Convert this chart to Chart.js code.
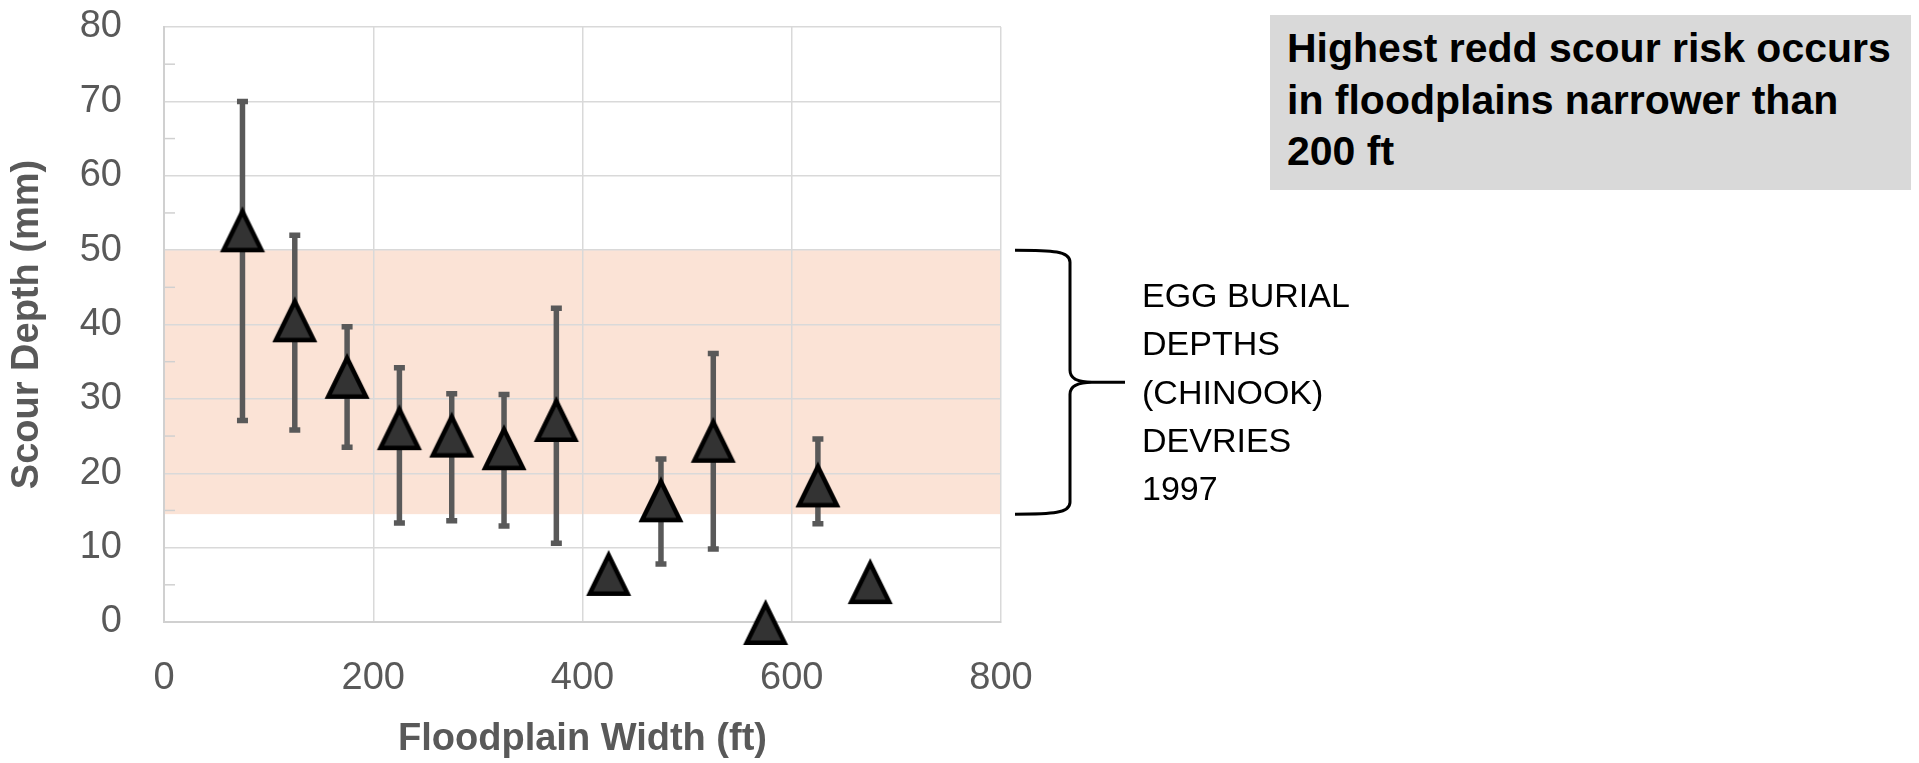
<!DOCTYPE html>
<html><head><meta charset="utf-8">
<script src="https://cdn.jsdelivr.net/npm/chart.js@4"></script>
<style>
html,body{margin:0;padding:0;background:#fff;}
#wrap{position:relative;width:1919px;height:763px;overflow:hidden;font-family:"Liberation Sans",Arial,sans-serif;}
#c{position:absolute;left:0;top:0;width:1919px;height:763px;}
#note{position:absolute;left:1270px;top:15px;width:641px;height:175px;background:#d9d9d9;box-sizing:border-box;padding:8px 0 0 17px;font-weight:bold;font-size:41px;line-height:51.7px;color:#000;white-space:nowrap;}
#braceText{position:absolute;left:1142px;top:271px;font-size:34px;line-height:48.3px;color:#000;white-space:nowrap;}
</style></head>
<body><div id="wrap"><canvas id="c" width="1919" height="763"></canvas>
<div id="note">Highest redd scour risk occurs<br>in floodplains narrower than<br>200 ft</div>
<div id="braceText">EGG BURIAL<br>DEPTHS<br>(CHINOOK)<br>DEVRIES<br>1997</div>
</div>
<script>
// ---- data ----
const floodplainWidth = [75, 125, 175, 225, 275, 325, 375, 425, 475, 525, 575, 625, 675];
const scourDepth      = [52.8, 40.7, 33.1, 26.2, 25.2, 23.5, 27.3, 6.6, 16.5, 24.5, 0, 18.5, 5.5];
const errorHigh       = [70, 52, 39.7, 34.2, 30.7, 30.6, 42.2, null, 21.9, 36.1, null, 24.6, null];
const errorLow        = [27.1, 25.8, 23.5, 13.3, 13.6, 12.9, 10.6, null, 7.8, 9.8, null, 13.2, null];
const burialBand      = [14.5, 50];
const xTicks = [0, 200, 400, 600, 800];
const yTicks = [0, 10, 20, 30, 40, 50, 60, 70, 80];
const yMinorTicks = [5, 15, 25, 35, 45, 55, 65, 75];

const FONT = '"Liberation Sans", Arial, sans-serif';
const AXIS_GREY = '#595959';

function makeTriangle() {
  const s = 52, c = document.createElement('canvas');
  c.width = s; c.height = s;
  const g = c.getContext('2d');
  const a = 18.9, h = 38.5, ty = 8.15, by = ty + h, cx = s / 2;
  g.beginPath();
  g.moveTo(cx, ty); g.lineTo(cx + a, by); g.lineTo(cx - a, by); g.closePath();
  g.fillStyle = '#333333'; g.fill();
  g.lineWidth = 4.5; g.strokeStyle = '#000'; g.lineJoin = 'miter'; g.stroke();
  return c;
}
const tri = makeTriangle();

const bandPlugin = {
  id: 'band',
  beforeDraw(chart) {
    const {ctx, chartArea: a, scales: {y}} = chart;
    const t = y.getPixelForValue(burialBand[1]), b = y.getPixelForValue(burialBand[0]);
    ctx.save();
    ctx.fillStyle = '#fbe3d6';
    ctx.fillRect(a.left, t, a.right - a.left, b - t);
    ctx.restore();
  }
};

const errorBarPlugin = {
  id: 'errorBars',
  beforeDatasetsDraw(chart) {
    const {ctx, scales: {x, y}} = chart;
    ctx.save();
    ctx.strokeStyle = '#595959';
    ctx.lineWidth = 5.5;
    ctx.lineCap = 'butt';
    floodplainWidth.forEach((w, i) => {
      if (errorHigh[i] == null) return;
      const px = x.getPixelForValue(w);
      const top = y.getPixelForValue(errorHigh[i]);
      const bot = y.getPixelForValue(errorLow[i]);
      ctx.beginPath(); ctx.moveTo(px, top); ctx.lineTo(px, bot); ctx.stroke();
      ctx.beginPath();
      ctx.moveTo(px - 5.5, top); ctx.lineTo(px + 5.5, top);
      ctx.moveTo(px - 5.5, bot); ctx.lineTo(px + 5.5, bot);
      ctx.stroke();
    });
    ctx.restore();
  }
};

const extrasPlugin = {
  id: 'extras',
  afterDraw(chart) {
    const {ctx, chartArea: a, scales: {y}} = chart;
    ctx.save();
    // minor ticks inside the y axis
    ctx.strokeStyle = '#d0d0d0';
    ctx.lineWidth = 1.5;
    yMinorTicks.forEach(v => {
      const py = y.getPixelForValue(v);
      ctx.beginPath(); ctx.moveTo(a.left, py); ctx.lineTo(a.left + 11, py); ctx.stroke();
    });
    // curly brace next to the band
    const yT = y.getPixelForValue(burialBand[1]);
    const yB = y.getPixelForValue(burialBand[0]);
    const yM = (yT + yB) / 2;
    const x0 = a.right + 14, xv = a.right + 69, xt = a.right + 124;
    ctx.strokeStyle = '#000';
    ctx.lineWidth = 3;
    ctx.beginPath();
    ctx.moveTo(x0, yT);
    ctx.bezierCurveTo(x0 + 38, yT, xv, yT + 1, xv, yT + 12);
    ctx.lineTo(xv, yM - 12);
    ctx.bezierCurveTo(xv, yM - 3, xv + 8, yM, xv + 22, yM);
    ctx.lineTo(xt, yM);
    ctx.moveTo(xv + 22, yM);
    ctx.bezierCurveTo(xv + 8, yM, xv, yM + 3, xv, yM + 12);
    ctx.lineTo(xv, yB - 12);
    ctx.bezierCurveTo(xv, yB - 1, x0 + 38, yB, x0, yB);
    ctx.stroke();
    ctx.restore();
  }
};

new Chart(document.getElementById('c'), {
  type: 'scatter',
  data: {
    datasets: [{
      data: floodplainWidth.map((w, i) => ({x: w, y: scourDepth[i]})),
      pointStyle: tri,
      pointRadius: 22,
      pointHoverRadius: 22,
      showLine: false,
      clip: false
    }]
  },
  options: {
    responsive: false,
    animation: false,
    devicePixelRatio: 1,
    layout: {padding: {left: 0, top: 27, right: 918, bottom: 0}},
    plugins: {legend: {display: false}, tooltip: {enabled: false}},
    scales: {
      x: {
        type: 'linear', min: 0, max: 800,
        afterBuildTicks: s => { s.ticks = xTicks.map(v => ({value: v})); },
        afterFit: s => { s.height = 141; },
        grid: {color: '#d9d9d9', lineWidth: 1.5, drawTicks: false},
        border: {color: '#d0d0d0', width: 2},
        ticks: {padding: 33.5, color: AXIS_GREY, font: {family: FONT, size: 38, lineHeight: 1.2}},
        title: {display: true, text: 'Floodplain Width (ft)', color: AXIS_GREY,
                font: {family: FONT, size: 38, weight: 'bold', lineHeight: 1},
                padding: {top: 0, bottom: 4}}
      },
      y: {
        type: 'linear', min: 0, max: 80,
        afterBuildTicks: s => { s.ticks = yTicks.map(v => ({value: v})); },
        afterFit: s => { s.width = 164; s.paddingTop = 0; s.paddingBottom = 0; },
        grid: {color: '#d9d9d9', lineWidth: 1.5, drawTicks: false},
        border: {color: '#d0d0d0', width: 2},
        ticks: {padding: 42, color: AXIS_GREY, font: {family: FONT, size: 38, lineHeight: 1.2}},
        title: {display: true, text: 'Scour Depth (mm)', color: AXIS_GREY,
                font: {family: FONT, size: 38, weight: 'bold', lineHeight: 1},
                padding: {top: 9, bottom: 0}}
      }
    }
  },
  plugins: [bandPlugin, errorBarPlugin, extrasPlugin]
});
</script>
</body></html>
